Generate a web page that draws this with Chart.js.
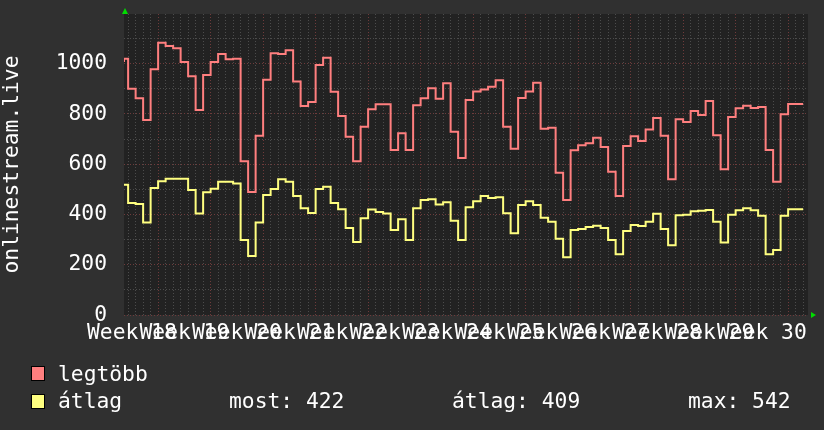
<!DOCTYPE html>
<html><head><meta charset="utf-8">
<script src="https://cdn.jsdelivr.net/npm/chart.js@4.4.1/dist/chart.umd.min.js"></script>
<style>
html,body{margin:0;padding:0;background:#303030;}
#wrap{position:relative;width:824px;height:430px;overflow:hidden;background:#303030;}
canvas{position:absolute;left:0;top:0;}
.lg{position:absolute;font-family:'DejaVu Sans Mono',monospace;font-size:21.3px;color:#ffffff;line-height:1;white-space:pre;}
.box{position:absolute;box-sizing:border-box;width:14px;height:15px;border:1px solid #000;}
</style></head><body>
<div id="wrap">
<canvas id="c" width="824" height="430"></canvas>
<div class="box" id="boxMax" style="left:31px;top:366px;"></div>
<div class="lg" id="lblMax" style="left:58px;top:363px;"></div>
<div class="box" id="boxAvg" style="left:31px;top:394px;"></div>
<div class="lg" id="lblAvg" style="left:58px;top:390px;"></div>
<div class="lg" id="statNow" style="left:229px;top:390px;"></div>
<div class="lg" id="statAvg" style="left:452px;top:390px;"></div>
<div class="lg" id="statMax" style="left:688px;top:390px;"></div>
</div>
<script>
// ---- data (daily values, first entry is a partial day) ----
const weekLabels = ['Week 18','Week 19','Week 20','Week 21','Week 22','Week 23','Week 24','Week 25','Week 26','Week 27','Week 28','Week 29','Week 30'];
const maxValues = [1007,1020,900,863,776,978,1084,1071,1062,1007,950,816,955,1007,1039,1018,1020,612,490,
  713,936,1042,1039,1054,929,832,848,995,1024,889,792,709,612,749,819,839,839,657,
  723,657,835,863,902,861,922,729,625,856,890,898,908,934,749,662,864,890,
  924,741,745,566,458,656,676,684,705,669,570,474,673,711,693,738,784,713,540,
  779,768,812,796,852,715,580,788,823,833,824,828,657,530,799,840];
const avgValues = [518,518,446,442,368,505,532,542,542,542,498,404,489,502,530,530,523,299,235,
  368,478,501,540,530,474,425,406,501,510,446,421,346,291,385,420,410,404,338,
  381,299,425,458,461,440,449,375,299,429,453,474,466,469,405,325,438,453,
  438,387,371,303,230,338,342,350,355,346,299,242,334,358,354,371,403,342,278,
  397,399,413,415,418,371,289,399,417,425,417,395,242,259,395,421];
const seriesNames = ['legtöbb','átlag'];
const axisTitle = 'onlinestream.live';
const statNow = 422, statAvg = 409, statMax = 542;

// ---- axis geometry (days) ----
const firstPartial = 0.55;          // fraction of first day shown
const xMin = -firstPartial, xMax = 90.65;
const weekStartOffset = 4;          // first week boundary (day index)
const yMax = 1198;

const FONT = "'DejaVu Sans Mono', monospace";
const MAJOR = '#6e3b3b', MINOR = '#4c4c4c';
const RED = '#ff7f7f', YELLOW = '#ffff80';

function toPoints(vals){
  const pts = vals.map((v,i)=>({x: i===0 ? xMin : i-1, y: v}));
  pts.push({x: vals.length-1, y: vals[vals.length-1]});
  return pts;
}
const dayTicks = [];
for (let d=0; d<=90; d++) dayTicks.push(d);
const labelTicks = weekLabels.map((_,k)=>weekStartOffset - 3.5 + 7*k);
const xTicks = dayTicks.concat(labelTicks).sort((a,b)=>a-b);
const yTicks = [];
for (let v=0; v<=1100; v+=100) yTicks.push(v);

function isLabelTick(v){ return Math.abs(v - Math.round(v)) > 1e-6; }
function isWeekTick(v){ return !isLabelTick(v) && ((Math.round(v) - weekStartOffset) % 7 === 0); }

const deco = {
  id:'deco',
  beforeDraw(ch){
    const {ctx, chartArea:a} = ch;
    ctx.save(); ctx.fillStyle = '#222222';
    ctx.fillRect(a.left, a.top, a.right-a.left, a.bottom-a.top); ctx.restore();
  },
  afterDraw(ch){
    const {ctx, chartArea:a} = ch;
    ctx.save(); ctx.fillStyle = '#00dd00';
    ctx.beginPath(); ctx.moveTo(a.left-2, a.top); ctx.lineTo(a.left+4, a.top); ctx.lineTo(a.left+1, a.top-6); ctx.closePath(); ctx.fill();
    ctx.beginPath(); ctx.moveTo(a.right+3, a.bottom-3); ctx.lineTo(a.right+3, a.bottom+3); ctx.lineTo(a.right+8, a.bottom); ctx.closePath(); ctx.fill();
    ctx.restore();
  }
};

new Chart(document.getElementById('c'), {
  type:'line',
  data:{datasets:[
    {label:seriesNames[0], data:toPoints(maxValues), borderColor:RED, borderWidth:2, pointRadius:0, stepped:'after', fill:false},
    {label:seriesNames[1], data:toPoints(avgValues), borderColor:YELLOW, borderWidth:2, pointRadius:0, stepped:'after', fill:false}
  ]},
  options:{
    responsive:false, animation:false, devicePixelRatio:1,
    layout:{padding:{top:14,right:16,left:0,bottom:0}},
    plugins:{legend:{display:false}, tooltip:{enabled:false}},
    scales:{
      x:{type:'linear', min:xMin, max:xMax, bounds:'data',
        afterBuildTicks: s => { s.ticks = xTicks.map(v=>({value:v})); },
        afterFit: s => { s.height = 115; s.paddingLeft = 0; s.paddingRight = 0; },
        ticks:{autoSkip:false, maxRotation:0, minRotation:0, padding:6, color:'#ffffff',
          font:{family:FONT, size:21.3},
          callback:(v)=>{ if(!isLabelTick(v)) return ''; const k = Math.round((v-(weekStartOffset-3.5))/7); return weekLabels[k]||''; }},
        grid:{drawTicks:false, lineWidth:1,
          color: c => { const v = c.tick ? c.tick.value : 0; if (isLabelTick(v)) return 'rgba(0,0,0,0)'; return isWeekTick(v) ? MAJOR : MINOR; }},
        border:{display:false, dash:[1,2]}
      },
      y:{min:0, max:yMax,
        afterBuildTicks: s => { s.ticks = yTicks.map(v=>({value:v})); },
        afterFit: s => { s.width = 124; s.paddingTop = 0; s.paddingBottom = 0; },
        ticks:{autoSkip:false, padding:17, color:'#ffffff', font:{family:FONT, size:21.3},
          callback: v => (v % 200 === 0 ? String(v) : '')},
        grid:{drawTicks:false, lineWidth:1,
          color: c => { const v = c.tick ? c.tick.value : 0; return v % 200 === 0 ? MAJOR : MINOR; }},
        border:{display:false, dash:[1,2]},
        title:{display:true, text:axisTitle, color:'#ffffff', font:{family:FONT, size:21.3}, padding:{top:0,bottom:0}}
      }
    }
  },
  plugins:[deco]
});

document.getElementById('boxMax').style.background = RED;
document.getElementById('boxAvg').style.background = YELLOW;
document.getElementById('lblMax').textContent = seriesNames[0];
document.getElementById('lblAvg').textContent = seriesNames[1];
document.getElementById('statNow').textContent = 'most: ' + statNow;
document.getElementById('statAvg').textContent = 'átlag: ' + statAvg;
document.getElementById('statMax').textContent = 'max: ' + statMax;
</script>
</body></html>
